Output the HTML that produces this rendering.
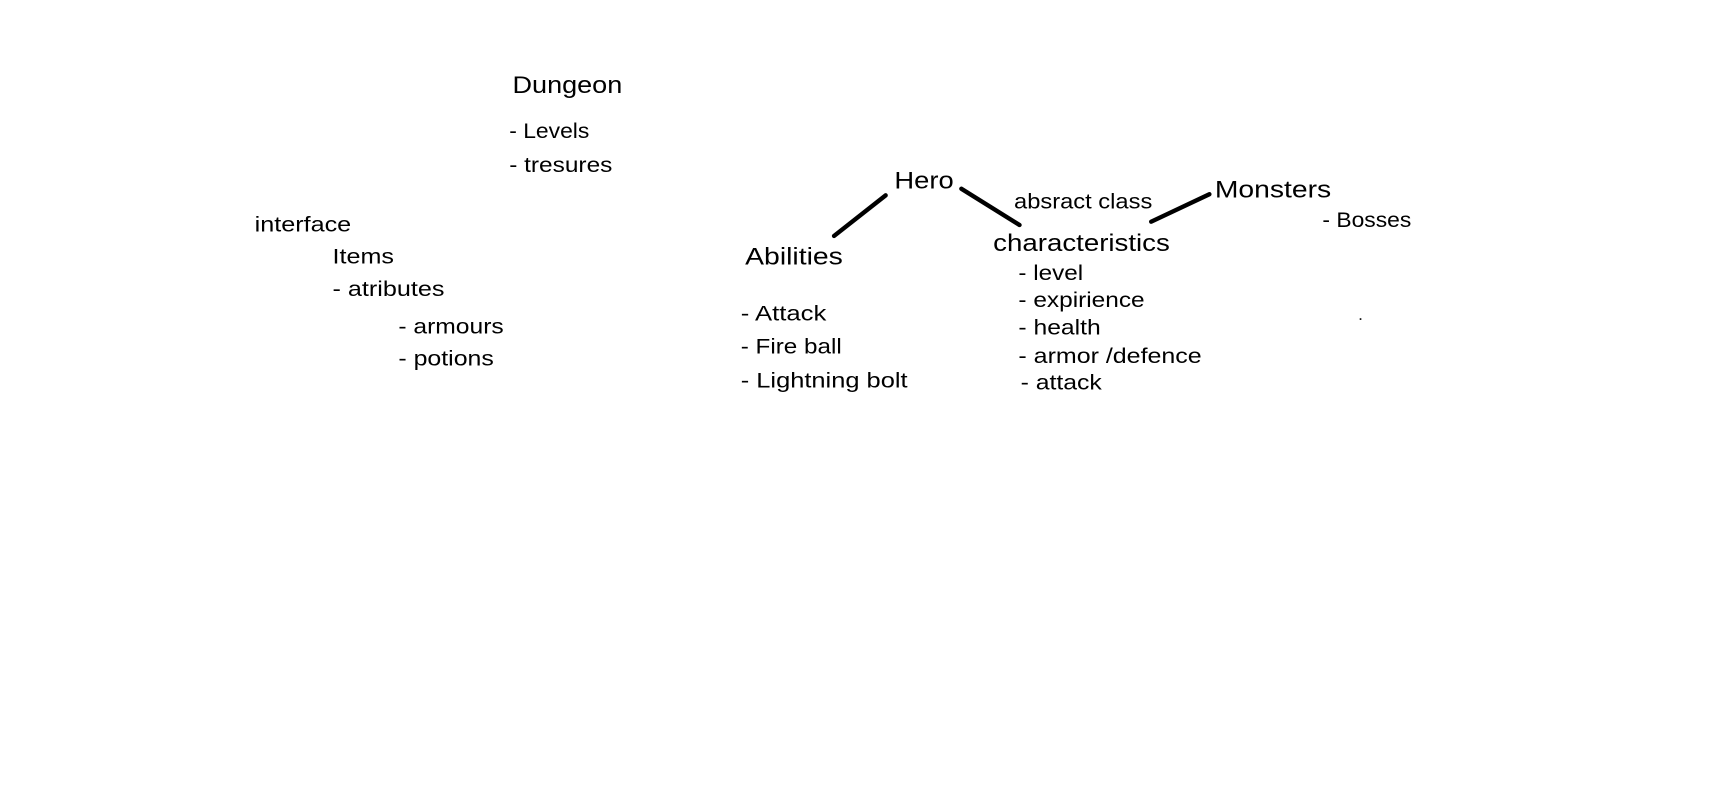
<!DOCTYPE html>
<html><head><meta charset="utf-8"><style>
html,body{margin:0;padding:0;background:#fff;}
svg{display:block;}
text{font-family:"Liberation Sans",sans-serif;fill:#000;dominant-baseline:central;}
.b{font-size:22px;}
.n{font-size:19px;}
</style></head><body>
<svg width="1712" height="792" viewBox="0 0 1560 721.7" xmlns="http://www.w3.org/2000/svg">
<rect width="1560" height="721.7" fill="#fff"/>
<g transform="translate(-3,0)">
<text class="b" x="470" y="78" textLength="100" lengthAdjust="spacingAndGlyphs">Dungeon</text>
<text class="n" x="467" y="120" textLength="73" lengthAdjust="spacingAndGlyphs">- Levels</text>
<text class="n" x="467" y="151" textLength="94" lengthAdjust="spacingAndGlyphs">- tresures</text>
<text class="n" x="235" y="205" textLength="88" lengthAdjust="spacingAndGlyphs">interface</text>
<text class="n" x="306" y="234" textLength="56" lengthAdjust="spacingAndGlyphs">Items</text>
<text class="n" x="306" y="264" textLength="102" lengthAdjust="spacingAndGlyphs">- atributes</text>
<text class="n" x="366" y="298" textLength="96" lengthAdjust="spacingAndGlyphs">- armours</text>
<text class="n" x="366" y="327" textLength="87" lengthAdjust="spacingAndGlyphs">- potions</text>
<text class="b" x="818" y="165" textLength="54" lengthAdjust="spacingAndGlyphs">Hero</text>
<text class="n" x="927" y="184" textLength="126" lengthAdjust="spacingAndGlyphs">absract class</text>
<text class="b" x="1110" y="173" textLength="106" lengthAdjust="spacingAndGlyphs">Monsters</text>
<text class="n" x="1208" y="201" textLength="81" lengthAdjust="spacingAndGlyphs">- Bosses</text>
<text class="b" x="682" y="234" textLength="89" lengthAdjust="spacingAndGlyphs">Abilities</text>
<text class="n" x="678" y="286" textLength="78" lengthAdjust="spacingAndGlyphs">- Attack</text>
<text class="n" x="678" y="316" textLength="92" lengthAdjust="spacingAndGlyphs">- Fire ball</text>
<text class="n" x="678" y="347" textLength="152" lengthAdjust="spacingAndGlyphs">- Lightning bolt</text>
<text class="b" x="908" y="222" textLength="161" lengthAdjust="spacingAndGlyphs">characteristics</text>
<text class="n" x="931" y="249" textLength="59" lengthAdjust="spacingAndGlyphs">- level</text>
<text class="n" x="931" y="274" textLength="115" lengthAdjust="spacingAndGlyphs">- expirience</text>
<text class="n" x="931" y="299" textLength="75" lengthAdjust="spacingAndGlyphs">- health</text>
<text class="n" x="931" y="325" textLength="167" lengthAdjust="spacingAndGlyphs">- armor /defence</text>
<text class="n" x="933" y="349" textLength="74" lengthAdjust="spacingAndGlyphs">- attack</text>
</g>
<g stroke="#000" stroke-width="4" stroke-linecap="round" transform="translate(-3,0)">
<line x1="810" y1="178" x2="763" y2="215"/>
<line x1="879" y1="172" x2="932" y2="205"/>
<line x1="1052" y1="202" x2="1105" y2="177"/>
</g>
<rect x="1239" y="290" width="1.5" height="1.5" fill="#000"/>
</svg>
</body></html>
